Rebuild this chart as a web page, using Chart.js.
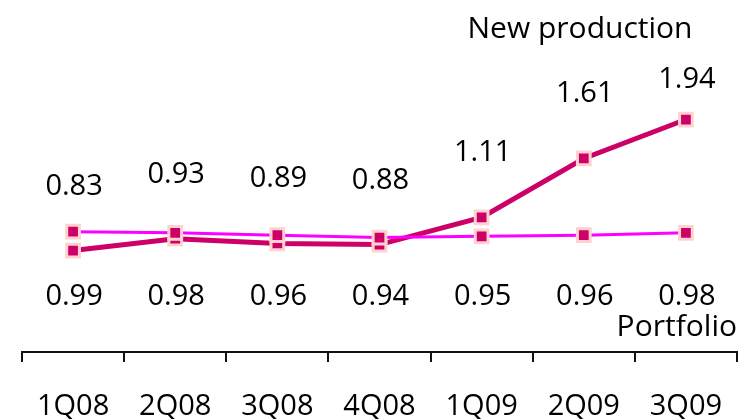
<!DOCTYPE html>
<html>
<head>
<meta charset="utf-8">
<script src="https://cdn.jsdelivr.net/npm/chart.js@4/dist/chart.umd.min.js"></script>
<style>
  html, body { margin: 0; padding: 0; background: #ffffff; }
  #wrap { width: 742px; height: 419px; position: relative; }
</style>
</head>
<body>
<div id="wrap"><canvas id="chart" width="742" height="419"></canvas></div>
<script>
// Quarterly values
const quarters = ['1Q08', '2Q08', '3Q08', '4Q08', '1Q09', '2Q09', '3Q09'];
const newProduction = [0.83, 0.93, 0.89, 0.88, 1.11, 1.61, 1.94];
const portfolio = [0.99, 0.98, 0.96, 0.94, 0.95, 0.96, 0.98];
const seriesNames = ['New production', 'Portfolio'];

const FONT = '"Open Sans", "DejaVu Sans", sans-serif';
const MARK_FILL = '#cc0066';
const MARK_EDGE = '#ffd2d2';

// Value labels above the new-production line, below the portfolio line,
// plus the two series captions.
const valueLabels = {
  id: 'valueLabels',
  afterDatasetsDraw(chart) {
    const ctx = chart.ctx;
    const area = chart.chartArea;
    ctx.save();
    ctx.fillStyle = '#000000';
    ctx.font = '29px ' + FONT;
    ctx.textAlign = 'center';
    ctx.textBaseline = 'alphabetic';

    const npMeta = chart.getDatasetMeta(1);
    npMeta.data.forEach((pt, i) => {
      const base = Math.max(pt.y - 56, 88);
      ctx.fillText(newProduction[i].toFixed(2), pt.x + 1, base);
    });

    const pfMeta = chart.getDatasetMeta(0);
    pfMeta.data.forEach((pt, i) => {
      ctx.fillText(portfolio[i].toFixed(2), pt.x + 1, area.bottom - 47);
    });

    ctx.font = '30px ' + FONT;
    ctx.fillText(seriesNames[0], 580, 38);
    ctx.textAlign = 'right';
    ctx.fillText(seriesNames[1], area.right, 336);
    ctx.restore();
  }
};

new Chart(document.getElementById('chart'), {
  type: 'line',
  data: {
    labels: quarters,
    datasets: [
      {
        label: seriesNames[1],
        data: portfolio,
        borderColor: '#ff00ff',
        borderWidth: 3,
        pointStyle: 'rect',
        pointRadius: 9,
        pointBorderWidth: 3,
        pointBackgroundColor: MARK_FILL,
        pointBorderColor: MARK_EDGE,
        tension: 0,
        order: 0
      },
      {
        label: seriesNames[0],
        data: newProduction,
        borderColor: '#cc0066',
        borderWidth: 5,
        pointStyle: 'rect',
        pointRadius: 9,
        pointBorderWidth: 3,
        pointBackgroundColor: MARK_FILL,
        pointBorderColor: MARK_EDGE,
        tension: 0,
        order: 1
      }
    ]
  },
  options: {
    responsive: false,
    animation: false,
    layout: { autoPadding: false, padding: { left: 22, right: 5, top: 0, bottom: 0 } },
    plugins: {
      legend: { display: false },
      tooltip: { enabled: false }
    },
    scales: {
      x: {
        type: 'category',
        offset: true,
        grid: {
          display: true,
          offset: true,
          drawOnChartArea: false,
          drawTicks: true,
          tickLength: 10,
          color: '#111111',
          lineWidth: 2
        },
        border: { display: true, color: '#111111', width: 2 },
        ticks: {
          color: '#000000',
          font: { family: FONT, size: 29 },
          padding: 27,
          maxRotation: 0,
          autoSkip: false
        },
        afterFit(scale) {
          scale.height = 67;
          scale.paddingLeft = 0;
          scale.paddingRight = 0;
        }
      },
      y: {
        display: false,
        min: -0.03,
        max: 2.953
      }
    }
  },
  plugins: [valueLabels]
});
</script>
</body>
</html>
